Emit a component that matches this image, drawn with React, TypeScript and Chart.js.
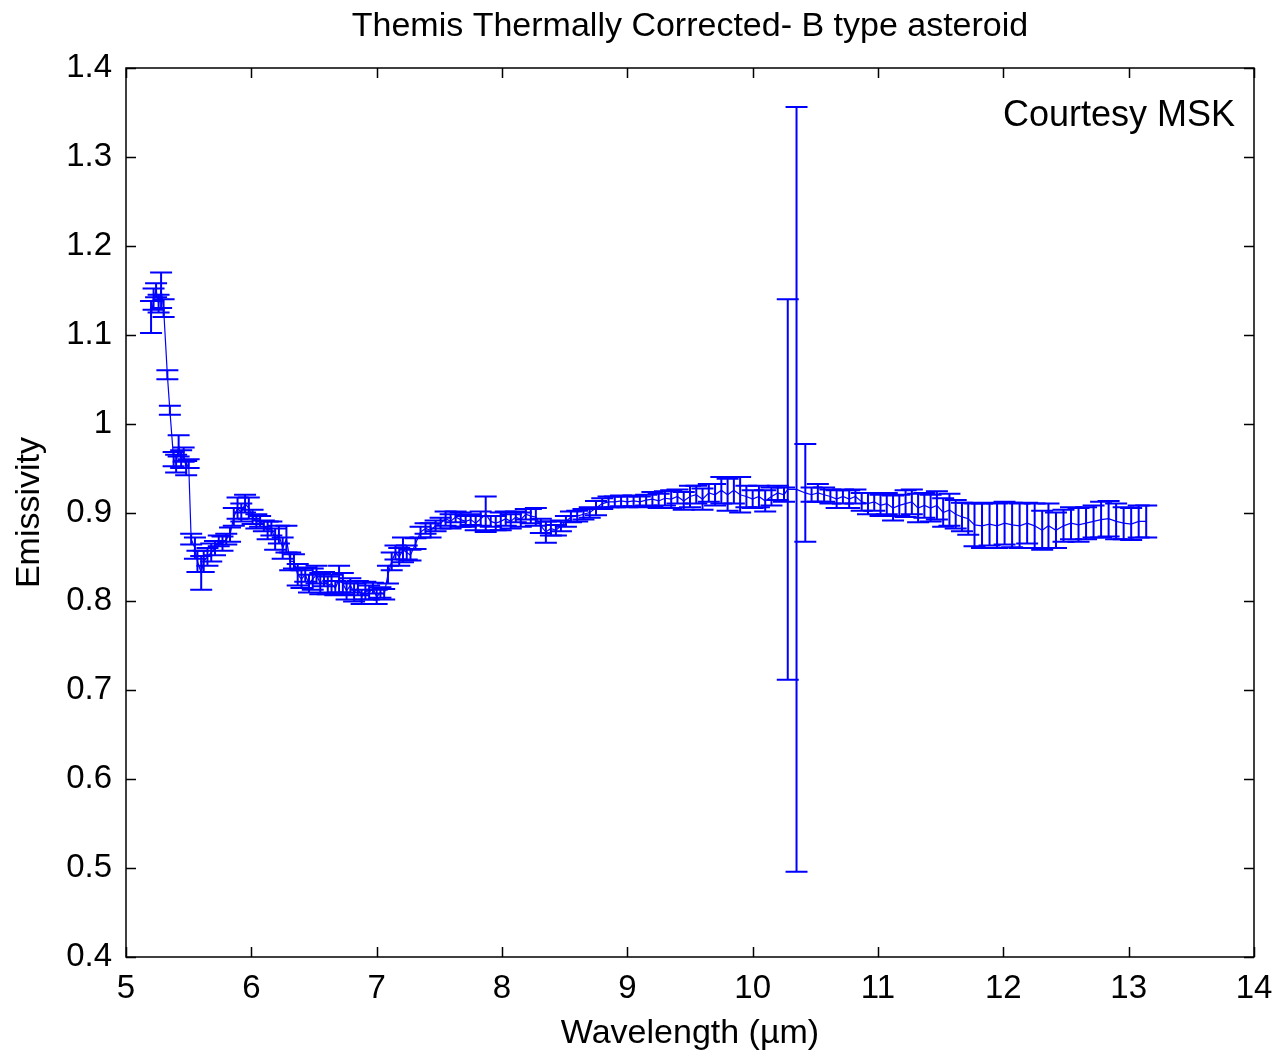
import React, { useEffect, useRef } from "react";
import { Chart, registerables } from "chart.js";

Chart.register(...registerables);

const titleText = "Themis Thermally Corrected- B type asteroid";
const xTitle = "Wavelength (\u00b5m)";
const yTitle = "Emissivity";
const noteText = "Courtesy MSK";

const xTickLabels = ["5", "6", "7", "8", "9", "10", "11", "12", "13", "14"];
const yTickLabels = ["0.4", "0.5", "0.6", "0.7", "0.8", "0.9", "1", "1.1", "1.2", "1.3", "1.4"];

const wavelengths = [
  5.20, 5.22, 5.24, 5.26, 5.28, 5.30, 5.33, 5.35, 5.38, 5.40,
  5.42, 5.44, 5.46, 5.48, 5.50, 5.52, 5.55, 5.57, 5.60, 5.62,
  5.65, 5.68, 5.71, 5.74, 5.77, 5.80, 5.83, 5.86, 5.89, 5.92,
  5.95, 5.98, 6.01, 6.04, 6.07, 6.10, 6.13, 6.16, 6.19, 6.22,
  6.25, 6.28, 6.31, 6.34, 6.37, 6.40, 6.43, 6.46, 6.49, 6.52,
  6.55, 6.58, 6.61, 6.64, 6.67, 6.70, 6.73, 6.76, 6.79, 6.82,
  6.85, 6.88, 6.91, 6.94, 6.97, 7.00, 7.03, 7.06, 7.09, 7.12,
  7.15, 7.18, 7.21, 7.24, 7.27, 7.31, 7.35, 7.39, 7.43, 7.47,
  7.51, 7.55, 7.59, 7.63, 7.67, 7.71, 7.75, 7.79, 7.83, 7.87,
  7.91, 7.95, 7.99, 8.03, 8.07, 8.11, 8.15, 8.19, 8.23, 8.27,
  8.31, 8.35, 8.39, 8.43, 8.47, 8.51, 8.55, 8.60, 8.65, 8.70,
  8.75, 8.80, 8.85, 8.90, 8.95, 9.00, 9.05, 9.10, 9.15, 9.20,
  9.25, 9.30, 9.35, 9.40, 9.45, 9.50, 9.55, 9.60, 9.65, 9.70,
  9.75, 9.80, 9.85, 9.90, 9.95, 10.00, 10.05, 10.10, 10.15, 10.20,
  10.25, 10.28, 10.35, 10.42, 10.47, 10.52, 10.57, 10.62, 10.67, 10.72,
  10.77, 10.82, 10.87, 10.92, 10.97, 11.02, 11.07, 11.12, 11.17, 11.22,
  11.27, 11.32, 11.37, 11.42, 11.47, 11.52, 11.57, 11.62, 11.67, 11.72,
  11.77, 11.83, 11.89, 11.95, 12.01, 12.07, 12.13, 12.19, 12.25, 12.31,
  12.36, 12.42, 12.48, 12.54, 12.60, 12.66, 12.72, 12.78, 12.84, 12.90,
  12.96, 13.02, 13.08, 13.14,
];

const emissivity = [
  1.120, 1.140, 1.150, 1.135, 1.150, 1.130, 1.055, 1.015, 0.960, 0.955,
  0.975, 0.960, 0.965, 0.950, 0.955, 0.870, 0.860, 0.845, 0.832, 0.845,
  0.850, 0.855, 0.860, 0.868, 0.865, 0.870, 0.875, 0.895, 0.905, 0.900,
  0.910, 0.905, 0.895, 0.890, 0.890, 0.885, 0.880, 0.882, 0.870, 0.875,
  0.860, 0.870, 0.845, 0.845, 0.830, 0.825, 0.830, 0.820, 0.825, 0.830,
  0.820, 0.825, 0.818, 0.820, 0.815, 0.825, 0.820, 0.812, 0.818, 0.810,
  0.815, 0.805, 0.812, 0.810, 0.815, 0.805, 0.810, 0.808, 0.830, 0.845,
  0.855, 0.850, 0.858, 0.855, 0.852, 0.865, 0.878, 0.882, 0.880, 0.885,
  0.888, 0.893, 0.890, 0.895, 0.892, 0.890, 0.892, 0.888, 0.893, 0.898,
  0.890, 0.888, 0.890, 0.893, 0.890, 0.895, 0.892, 0.898, 0.896, 0.895,
  0.885, 0.878, 0.882, 0.880, 0.885, 0.890, 0.895, 0.896, 0.898, 0.900,
  0.905, 0.910, 0.912, 0.912, 0.913, 0.912, 0.913, 0.912, 0.914, 0.915,
  0.913, 0.916, 0.915, 0.918, 0.913, 0.918, 0.920, 0.915, 0.922, 0.920,
  0.925, 0.920, 0.925, 0.920, 0.918, 0.915, 0.918, 0.913, 0.918, 0.922,
  0.920, 0.926, 0.926, 0.922, 0.920, 0.922, 0.920, 0.918, 0.915, 0.918,
  0.915, 0.918, 0.912, 0.910, 0.912, 0.908, 0.910, 0.905, 0.908, 0.910,
  0.912, 0.905, 0.908, 0.905, 0.908, 0.900, 0.903, 0.898, 0.895, 0.893,
  0.886, 0.885, 0.887, 0.885, 0.888, 0.886, 0.885, 0.888, 0.885, 0.880,
  0.885, 0.880, 0.885, 0.888, 0.886, 0.888, 0.890, 0.892, 0.893, 0.890,
  0.888, 0.887, 0.890, 0.890,
];

const errors = [
  0.018, 0.012, 0.008, 0.010, 0.020, 0.010, 0.005, 0.005, 0.008, 0.010,
  0.012, 0.010, 0.008, 0.008, 0.005, 0.006, 0.012, 0.012, 0.019, 0.012,
  0.010, 0.010, 0.008, 0.006, 0.008, 0.006, 0.008, 0.010, 0.012, 0.010,
  0.010, 0.012, 0.008, 0.008, 0.006, 0.006, 0.010, 0.008, 0.012, 0.010,
  0.012, 0.015, 0.010, 0.008, 0.012, 0.010, 0.008, 0.010, 0.012, 0.010,
  0.012, 0.008, 0.010, 0.010, 0.008, 0.015, 0.012, 0.010, 0.008, 0.010,
  0.008, 0.008, 0.010, 0.008, 0.006, 0.008, 0.006, 0.006, 0.010, 0.010,
  0.008, 0.010, 0.014, 0.008, 0.006, 0.006, 0.006, 0.006, 0.008, 0.006,
  0.006, 0.008, 0.008, 0.006, 0.008, 0.006, 0.006, 0.008, 0.008, 0.020,
  0.006, 0.008, 0.010, 0.008, 0.008, 0.006, 0.008, 0.006, 0.008, 0.010,
  0.008, 0.012, 0.008, 0.006, 0.006, 0.006, 0.006, 0.006, 0.006, 0.006,
  0.008, 0.006, 0.006, 0.006, 0.006, 0.006, 0.006, 0.006, 0.006, 0.008,
  0.008, 0.008, 0.010, 0.008, 0.010, 0.012, 0.010, 0.012, 0.010, 0.012,
  0.015, 0.018, 0.015, 0.020, 0.012, 0.010, 0.012, 0.012, 0.010, 0.008,
  0.008, 0.214, 0.430, 0.055, 0.008, 0.010, 0.008, 0.008, 0.010, 0.008,
  0.010, 0.008, 0.010, 0.012, 0.010, 0.012, 0.012, 0.014, 0.012, 0.015,
  0.014, 0.016, 0.014, 0.015, 0.016, 0.016, 0.018, 0.016, 0.016, 0.018,
  0.024, 0.025, 0.024, 0.025, 0.024, 0.025, 0.025, 0.023, 0.025, 0.022,
  0.025, 0.020, 0.018, 0.018, 0.019, 0.018, 0.018, 0.020, 0.020, 0.020,
  0.018, 0.018, 0.018, 0.018,
];

const BLUE = "#0000ff";
const FONT = "'Liberation Sans', Arial, Helvetica, sans-serif";

const errorBarPlugin = {
  id: "errorBars",
  afterDatasetsDraw(chart: any) {
    const { ctx, scales } = chart;
    const xs = scales.x;
    const ys = scales.y;
    const capHalf = 11;
    ctx.save();
    ctx.strokeStyle = BLUE;
    ctx.lineWidth = 2;
    for (let i = 0; i < wavelengths.length; i++) {
      const px = xs.getPixelForValue(wavelengths[i]);
      const top = ys.getPixelForValue(emissivity[i] + errors[i]);
      const bot = ys.getPixelForValue(emissivity[i] - errors[i]);
      ctx.beginPath();
      ctx.moveTo(px, top);
      ctx.lineTo(px, bot);
      ctx.moveTo(px - capHalf, top);
      ctx.lineTo(px + capHalf, top);
      ctx.moveTo(px - capHalf, bot);
      ctx.lineTo(px + capHalf, bot);
      ctx.stroke();
    }
    ctx.restore();
  },
};

const framePlugin = {
  id: "frame",
  afterDraw(chart: any) {
    const { ctx, chartArea, scales } = chart;
    const { left, right, top, bottom } = chartArea;
    const tl = 10;
    ctx.save();
    ctx.strokeStyle = "#000";
    ctx.lineWidth = 1.5;
    ctx.beginPath();
    scales.x.ticks.forEach((t: any) => {
      const px = Math.round(scales.x.getPixelForValue(t.value)) + 0.5;
      ctx.moveTo(px, bottom);
      ctx.lineTo(px, bottom - tl);
      ctx.moveTo(px, top);
      ctx.lineTo(px, top + tl);
    });
    scales.y.ticks.forEach((t: any) => {
      const py = Math.round(scales.y.getPixelForValue(t.value)) + 0.5;
      ctx.moveTo(left, py);
      ctx.lineTo(left + tl, py);
      ctx.moveTo(right, py);
      ctx.lineTo(right - tl, py);
    });
    ctx.stroke();
    ctx.strokeRect(left, top, right - left, bottom - top);
    ctx.fillStyle = "#000";
    ctx.font = `36px ${FONT}`;
    ctx.textAlign = "right";
    ctx.textBaseline = "alphabetic";
    ctx.fillText(noteText, right - 19, top + 58);
    ctx.restore();
  },
};

export default function App() {
  const canvasRef = useRef<HTMLCanvasElement | null>(null);

  useEffect(() => {
    if (!canvasRef.current) return;
    const points = wavelengths.map((w, i) => ({ x: w, y: emissivity[i] }));
    const chart = new Chart(canvasRef.current, {
      type: "line",
      data: {
        datasets: [
          {
            data: points,
            borderColor: BLUE,
            borderWidth: 1.2,
            pointRadius: 0,
            fill: false,
            tension: 0,
          },
        ],
      },
      options: {
        animation: false,
        responsive: false,
        devicePixelRatio: 1,
        layout: { padding: { top: 0, right: 20, bottom: 0, left: 0 } },
        plugins: {
          legend: { display: false },
          tooltip: { enabled: false },
          title: {
            display: true,
            fullSize: false,
            text: titleText,
            color: "#000",
            font: { family: FONT, size: 34, weight: "normal", lineHeight: 1.2 },
            padding: { top: 6, bottom: 21.2 },
          },
        },
        scales: {
          x: {
            type: "linear",
            min: 5,
            max: 14,
            afterFit(scale: any) {
              scale.height = 97;
              scale.paddingLeft = 0;
              scale.paddingRight = 0;
            },
            grid: { display: false, drawTicks: false },
            border: { display: false },
            ticks: {
              stepSize: 1,
              color: "#000",
              padding: 12,
              maxRotation: 0,
              autoSkip: false,
              font: { family: FONT, size: 33 },
              callback: (v: any) => xTickLabels[Math.round(Number(v) - 5)],
            },
            title: {
              display: true,
              text: xTitle,
              color: "#000",
              font: { family: FONT, size: 34, lineHeight: 1.2 },
              padding: { top: 2, bottom: 0 },
            },
          },
          y: {
            type: "linear",
            min: 0.4,
            max: 1.4,
            afterFit(scale: any) {
              scale.width = 126;
              scale.paddingTop = 0;
              scale.paddingBottom = 0;
            },
            grid: { display: false, drawTicks: false },
            border: { display: false },
            ticks: {
              stepSize: 0.1,
              color: "#000",
              padding: 14,
              autoSkip: false,
              font: { family: FONT, size: 33 },
              callback: (v: any) => yTickLabels[Math.round((Number(v) - 0.4) * 10)],
            },
            title: {
              display: true,
              text: yTitle,
              color: "#000",
              font: { family: FONT, size: 34, lineHeight: 1.2 },
              padding: { top: 9, bottom: 0 },
            },
          },
        },
      },
      plugins: [errorBarPlugin, framePlugin],
    });
    return () => chart.destroy();
  }, []);

  return (
    <div style={{ position: "absolute", left: 0, top: 0, width: 1274, height: 1054, background: "#fff" }}>
      <canvas ref={canvasRef} width={1274} height={1054} />
    </div>
  );
}
